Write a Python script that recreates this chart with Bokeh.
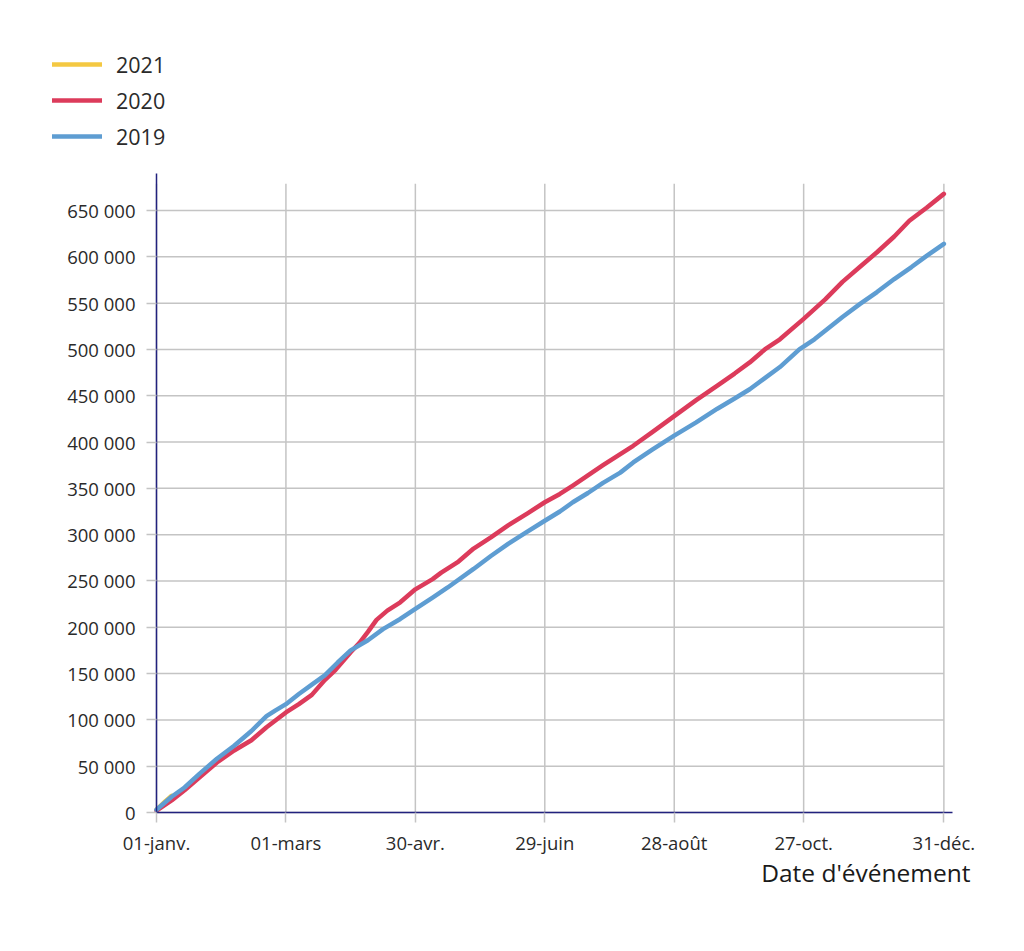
from bokeh.plotting import figure
from bokeh.models import Range1d, FixedTicker, Legend, LegendItem, Label
from bokeh.embed import file_html
from bokeh.resources import INLINE

# ---- data (day of year, cumulative count) ----
days_2021 = [0, 2, 4, 6, 7]
vals_2021 = [3000, 7500, 12000, 16000, 18000]

days_2020 = [0, 7, 13, 20, 28, 36, 44, 51, 60, 66, 72, 78, 83, 90, 94, 98, 102, 107,
             113, 120, 128, 132, 140, 147, 155, 163, 172, 180, 187, 193, 200, 207,
             215, 221, 230, 240, 250, 260, 268, 275, 282, 289, 300, 310, 318, 326,
             334, 342, 349, 357, 365]
vals_2020 = [2000, 13000, 24000, 38000, 54000, 67000, 78000, 92000, 108000, 117000,
             127000, 143000, 154000, 173000, 183000, 195000, 208000, 218000, 227000,
             241000, 252000, 259000, 271000, 285000, 297000, 310000, 323000, 335000,
             344000, 353000, 364000, 375000, 387000, 396000, 411000, 428000, 445000,
             461000, 474000, 486000, 500000, 511000, 533000, 554000, 573000, 589000,
             605000, 622000, 639000, 653000, 668000]

days_2019 = [0, 7, 13, 20, 28, 36, 44, 51, 55, 60, 66, 72, 78, 84, 90, 98, 105, 113,
             120, 128, 135, 147, 155, 163, 171, 180, 187, 193, 200, 207, 215, 221,
             230, 240, 250, 260, 268, 275, 282, 289, 298, 305, 311, 318, 326, 334,
             342, 350, 357, 365]
vals_2019 = [3000, 17000, 27000, 42000, 58000, 72000, 88000, 104000, 110000, 117000,
             128000, 138000, 148000, 162000, 175000, 186000, 198000, 209000, 220000,
             232000, 243000, 263000, 277000, 290000, 302000, 315000, 325000, 335000,
             345000, 356000, 367000, 378000, 392000, 407000, 421000, 436000, 447000,
             457000, 469000, 481000, 500000, 511000, 522000, 535000, 549000, 562000,
             576000, 589000, 601000, 614000]

series_names = ["2021", "2020", "2019"]
series_colors = ["#f4c842", "#dc3b5b", "#5e9dd2"]

x_tick_days = [0, 60, 120, 180, 240, 300, 365]
x_tick_labels = ["01-janv.", "01-mars", "30-avr.", "29-juin", "28-août", "27-oct.", "31-déc."]
y_tick_values = [0, 50000, 100000, 150000, 200000, 250000, 300000, 350000, 400000,
                 450000, 500000, 550000, 600000, 650000]
y_tick_labels = ["0", "50 000", "100 000", "150 000", "200 000", "250 000", "300 000",
                 "350 000", "400 000", "450 000", "500 000", "550 000", "600 000", "650 000"]
x_axis_title = "Date d'événement"

# ---- style / geometry (pixels) ----
FONT = "Open Sans"
GRID = "#c4c4c4"
AXIS = "#22227e"
TEXT = "#2a2a2a"
LINE_W = 4.5
W, H = 1000, 940
AX_LEFT, AX_RIGHT, AX_TOP, AX_BOTTOM, FRAME_TOP = 156, 952, 173, 812, 20
TITLE_Y = 872          # vertical centre of the x-axis title
TITLE_RIGHT = 970      # right edge of the x-axis title
x_max = 369            # day at right end of x axis
y_max = 690000         # value at top of y axis
grid_top = 679000
grid_right = 365
px_per_day = (AX_RIGHT - AX_LEFT) / x_max
val_per_px = y_max / (AX_BOTTOM - AX_TOP)
x_min = -AX_LEFT / px_per_day
x_end = x_max + (W - AX_RIGHT) / px_per_day
y_top = y_max + (AX_TOP - FRAME_TOP) * val_per_px
y_min = -(H - AX_BOTTOM) * val_per_px

p = figure(width=W, height=H, output_backend="svg", toolbar_location=None,
           x_range=Range1d(x_min, x_end), y_range=Range1d(y_min, y_top),
           min_border_left=0, min_border_right=0,
           min_border_top=FRAME_TOP, min_border_bottom=0)
p.outline_line_color = None
p.xgrid.visible = False
p.ygrid.visible = False

p.segment(x0=x_tick_days, y0=[0] * len(x_tick_days), x1=x_tick_days,
          y1=[grid_top] * len(x_tick_days), line_color=GRID, line_width=1.5)
p.segment(x0=[0] * len(y_tick_values), y0=y_tick_values,
          x1=[grid_right] * len(y_tick_values), y1=y_tick_values,
          line_color=GRID, line_width=1.5)

renderers = []
for d, v, c in zip([days_2021, days_2020, days_2019],
                   [vals_2021, vals_2020, vals_2019], series_colors):
    renderers.append(p.line(d, v, line_color=c, line_width=LINE_W,
                            line_join="round", line_cap="round"))

for ax in (p.xaxis[0], p.yaxis[0]):
    ax.axis_line_color = AXIS
    ax.axis_line_width = 1.5
    ax.major_tick_line_color = GRID
    ax.major_tick_line_width = 1.5
    ax.major_tick_out = 10
    ax.major_tick_in = 0
    ax.minor_tick_line_color = None
    ax.major_label_text_font = FONT
    ax.major_label_text_font_size = "18.5px"
    ax.major_label_text_color = TEXT
p.xaxis.major_label_standoff = 7
p.yaxis.major_label_standoff = 11
p.xaxis.bounds = (0, x_max)
p.yaxis.bounds = (0, y_max)
p.xaxis.fixed_location = 0
p.yaxis.fixed_location = 0

p.xaxis.ticker = FixedTicker(ticks=x_tick_days)
p.xaxis.major_label_overrides = dict(zip(x_tick_days, x_tick_labels))
p.yaxis.ticker = FixedTicker(ticks=y_tick_values)
p.yaxis.major_label_overrides = dict(zip(y_tick_values, y_tick_labels))

p.add_layout(Label(x=x_max, y=-(TITLE_Y - AX_BOTTOM) * val_per_px,
                   x_offset=TITLE_RIGHT - AX_RIGHT, text=x_axis_title,
                   text_align="right", text_baseline="middle", text_font=FONT,
                   text_font_size="24.5px", text_color="#1a1a1a"))

legend = Legend(items=[LegendItem(label=n, renderers=[r])
                       for n, r in zip(series_names, renderers)],
                location=(52, H - 154), orientation="vertical",
                padding=0, margin=0, spacing=0,
                glyph_width=50, glyph_height=36, label_height=36,
                label_standoff=14, label_text_font=FONT,
                label_text_font_size="21.5px", label_text_color=TEXT,
                border_line_color=None, background_fill_alpha=0)
p.add_layout(legend, "center")

open("out.html", "w").write(file_html(p, INLINE))
